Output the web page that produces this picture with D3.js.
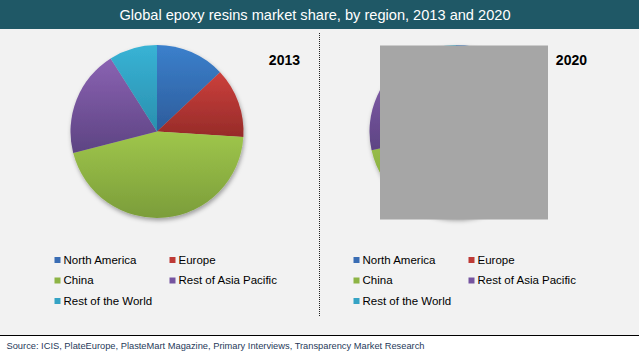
<!DOCTYPE html>
<html><head><meta charset="utf-8">
<script src="https://cdnjs.cloudflare.com/ajax/libs/d3/7.8.5/d3.min.js"></script>
<style>html,body{margin:0;padding:0;background:#fff;}svg{display:block;font-family:"Liberation Sans",Arial,sans-serif;}</style>
</head><body>
<svg id="c" width="639" height="358"></svg>
<script>
const title = "Global epoxy resins market share, by region, 2013 and 2020";
const source = "Source: ICIS, PlateEurope, PlasteMart Magazine, Primary Interviews, Transparency Market Research";
const regions = ["North America", "Europe", "China", "Rest of Asia Pacific", "Rest of the World"];
const years = ["2013", "2020"];
const share2013 = [13, 13, 45, 20, 9];
const share2020 = [12, 12, 47.5, 20.5, 8];
const seriesByYear = [share2013, share2020];

const topColors = ["#3b80cc", "#cc403c", "#9fc64b", "#8a62b2", "#38b3d5"];
const bottomColors = ["#2d5c9b", "#962b29", "#7b9d3a", "#5d4483", "#2a8fae"];
const legendColors = ["#3a6db4", "#be3a36", "#8db445", "#7554a0", "#35a3c4"];

const W = 639, H = 358;
const svg = d3.select("#c");
const defs = svg.append("defs");

regions.forEach((r, i) => {
  const g = defs.append("linearGradient").attr("id", "g" + i)
    .attr("x1", 0).attr("y1", 0).attr("x2", 0).attr("y2", 1);
  g.append("stop").attr("offset", "0%").attr("stop-color", topColors[i]);
  g.append("stop").attr("offset", "100%").attr("stop-color", bottomColors[i]);
});
const f = defs.append("filter").attr("id", "sh").attr("x", "-20%").attr("y", "-20%").attr("width", "140%").attr("height", "140%");
f.append("feDropShadow").attr("dx", 1).attr("dy", 2.5).attr("stdDeviation", 2).attr("flood-color", "#000").attr("flood-opacity", 0.35);

// backgrounds
svg.append("rect").attr("x", 0).attr("y", 0).attr("width", W).attr("height", H).attr("fill", "#ffffff");
svg.append("rect").attr("x", 0).attr("y", 29).attr("width", W).attr("height", 306).attr("fill", "#f2f2f2");
svg.append("rect").attr("x", 0).attr("y", 0).attr("width", W).attr("height", 29).attr("fill", "#1f5866");
svg.append("text").attr("x", 315).attr("y", 19.5).attr("text-anchor", "middle")
  .attr("fill", "#fff").attr("font-size", 14.6).text(title);

svg.append("line").attr("x1", 0).attr("x2", W).attr("y1", 335.5).attr("y2", 335.5)
  .attr("stroke", "#000").attr("stroke-width", 1.2);
svg.append("text").attr("x", 6.5).attr("y", 349).attr("font-size", 9.3).attr("fill", "#1f3a5a").text(source);

// divider
svg.append("line").attr("x1", 319.5).attr("x2", 319.5).attr("y1", 33).attr("y2", 317)
  .attr("stroke", "#222").attr("stroke-width", 1).attr("stroke-dasharray", "1,1");

const panelX = d3.scalePoint().domain(years).range([0, 299]);
const cxBase = 157, cy = 131.5, R = 86.5;
const pie = d3.pie().sort(null).value(d => d);
const arc = d3.arc().innerRadius(0).outerRadius(R);

years.forEach((yr, k) => {
  const ox = panelX(yr);
  const g = svg.append("g").attr("transform", `translate(${cxBase + ox},${cy})`);
  const sg = g.append("g").attr("filter", "url(#sh)");
  sg.selectAll("path").data(pie(seriesByYear[k])).join("path")
    .attr("d", arc)
    .attr("fill", (d, i) => `url(#g${i})`);

  svg.append("text").attr("x", 300 + ox + (k === 1 ? -12 : 0)).attr("y", 64.5).attr("text-anchor", "end")
    .attr("font-size", 14).attr("font-weight", "bold").attr("fill", "#000").text(yr);

  const lg = svg.append("g").attr("transform", `translate(${ox},0)`);
  regions.forEach((r, i) => {
    const col = i % 2, row = Math.floor(i / 2);
    const x = 54.5 + col * 115;
    const y = 263 + row * 20.5;
    lg.append("rect").attr("x", x).attr("y", y - 6).attr("width", 6).attr("height", 6).attr("fill", legendColors[i]);
    lg.append("text").attr("x", x + 9).attr("y", y + 0.5).attr("font-size", 11.5).attr("fill", "#000").text(r);
  });
});

// grey overlay block covering the 2020 pie in the reference
svg.append("rect").attr("x", 380).attr("y", 45.5).attr("width", 168).attr("height", 174).attr("fill", "#a6a6a6");
</script>
</body></html>
